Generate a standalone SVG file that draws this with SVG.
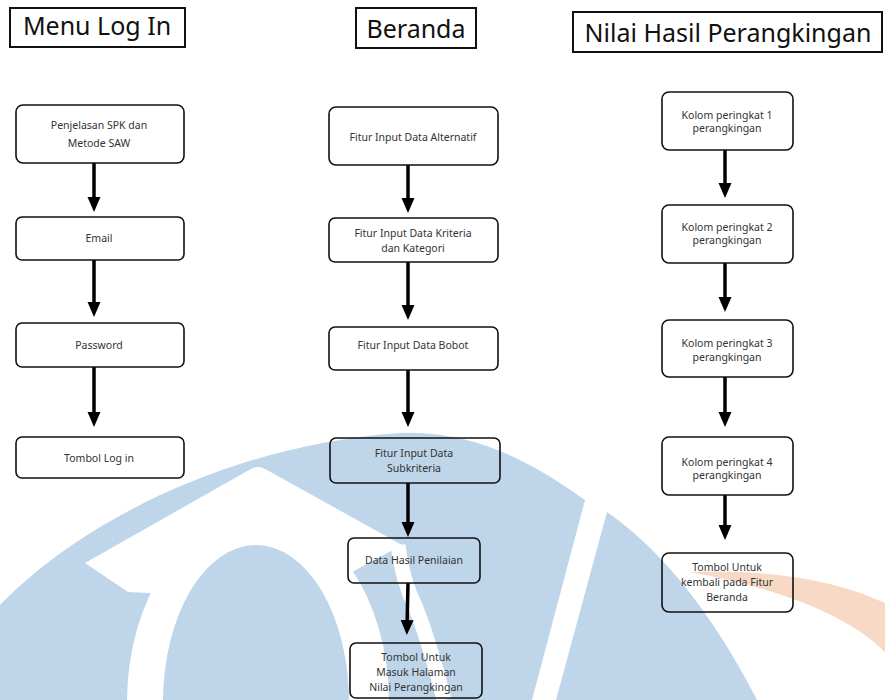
<svg xmlns="http://www.w3.org/2000/svg" width="885" height="700" viewBox="0 0 885 700">
<style>
.title{fill:none;stroke:#111;stroke-width:2}
.tt{font-family:"Noto Sans","DejaVu Sans",sans-serif;font-size:25px;fill:#111;text-anchor:middle}
.box{fill:none;stroke:#111;stroke-width:1.6}
.t{font-family:"Noto Sans","DejaVu Sans",sans-serif;font-size:10.5px;fill:#333;text-anchor:middle}
.ar{stroke:#000;stroke-width:3.5;fill:none;marker-end:url(#ah)}
</style>
<defs>
<marker id="ah" viewBox="0 0 16 14" refX="7" refY="7" markerWidth="16" markerHeight="14" markerUnits="userSpaceOnUse" orient="auto">
<path d="M0,0.5 L15,7 L0,13.5 Z" fill="#000"/>
</marker>
</defs>
<rect width="885" height="700" fill="#fff"/>
<g id="watermark">
<path d="M0,605 C80,522 230,445 400,433 C480,430 540,468 585,500 L532,700 L0,700 Z" fill="#bfd5e9"/>
<ellipse cx="258" cy="702" rx="131" ry="190" fill="#fff"/>
<path d="M85,563 L249,470 Q258,464 267,470 L402,545 L300,600 L128,592 Z" fill="#fff"/>
<path d="M398,545 Q402,580 416,608 Q432,650 444,700" stroke="#fff" stroke-width="15" fill="none"/>
<ellipse cx="256" cy="702" rx="93" ry="157" fill="#bfd5e9"/>
<path d="M607,512 Q690,570 757,700 L556,700 Z" fill="#bfd5e9"/>
<path d="M690,572 Q810,568 885,603 L885,652 Q830,598 690,572 Z" fill="#f8d9c6"/>
</g>
<g id="titles">
<g id="title-login"><rect class="title" x="10" y="8" width="175" height="39"/><text class="tt" x="97" y="35">Menu Log In</text></g>
<g id="title-beranda"><rect class="title" x="356" y="8" width="120" height="40"/><text class="tt" x="416" y="38">Beranda</text></g>
<g id="title-nilai"><rect class="title" x="573" y="12" width="309" height="40"/><text class="tt" x="728" y="42">Nilai Hasil Perangkingan</text></g>
</g>
<g id="connectors">
<line class="ar" x1="94" y1="163" x2="94" y2="204"/>
<line class="ar" x1="94" y1="260" x2="94" y2="309"/>
<line class="ar" x1="94" y1="367" x2="94" y2="419"/>
<line class="ar" x1="408" y1="165" x2="408" y2="205"/>
<line class="ar" x1="408" y1="262" x2="408" y2="312"/>
<line class="ar" x1="408" y1="370" x2="408" y2="419"/>
<line class="ar" x1="408" y1="483" x2="408" y2="529"/>
<line class="ar" x1="408" y1="583" x2="407" y2="627"/>
<line class="ar" x1="725" y1="150" x2="725" y2="190"/>
<line class="ar" x1="725" y1="263" x2="725" y2="304"/>
<line class="ar" x1="725" y1="377" x2="725" y2="419"/>
<line class="ar" x1="725" y1="495" x2="725" y2="532"/>
</g>
<g id="n-penjelasan"><rect class="box" x="16" y="105" width="168" height="58" rx="7"/><text class="t" x="99" y="129">Penjelasan SPK dan</text><text class="t" x="99" y="147">Metode SAW</text></g>
<g id="n-email"><rect class="box" x="16" y="217" width="168" height="43" rx="6"/><text class="t" x="99" y="242">Email</text></g>
<g id="n-password"><rect class="box" x="16" y="323" width="168" height="44" rx="6"/><text class="t" x="99" y="349">Password</text></g>
<g id="n-tombol-login"><rect class="box" x="16" y="437" width="168" height="41" rx="6"/><text class="t" x="99" y="462">Tombol Log in</text></g>
<g id="n-alternatif"><rect class="box" x="329" y="107" width="169" height="58" rx="7"/><text class="t" x="413" y="141">Fitur Input Data Alternatif</text></g>
<g id="n-kriteria"><rect class="box" x="329" y="218" width="169" height="44" rx="6"/><text class="t" x="413" y="237">Fitur Input Data Kriteria</text><text class="t" x="413" y="252">dan Kategori</text></g>
<g id="n-bobot"><rect class="box" x="329" y="327" width="169" height="43" rx="6"/><text class="t" x="413" y="349">Fitur Input Data Bobot</text></g>
<g id="n-subkriteria"><rect class="box" x="330" y="438" width="170" height="45" rx="6"/><text class="t" x="414" y="457">Fitur Input Data</text><text class="t" x="414" y="472">Subkriteria</text></g>
<g id="n-hasil"><rect class="box" x="348" y="538" width="132" height="45" rx="6"/><text class="t" x="414" y="564">Data Hasil Penilaian</text></g>
<g id="n-tombol-masuk"><rect class="box" x="350" y="643" width="132" height="55" rx="6"/><text class="t" x="416" y="661">Tombol Untuk</text><text class="t" x="416" y="676">Masuk Halaman</text><text class="t" x="416" y="691">Nilai Perangkingan</text></g>
<g id="n-kolom1"><rect class="box" x="662" y="92" width="131" height="58" rx="7"/><text class="t" x="727" y="119">Kolom peringkat 1</text><text class="t" x="727" y="132">perangkingan</text></g>
<g id="n-kolom2"><rect class="box" x="662" y="205" width="131" height="58" rx="7"/><text class="t" x="727" y="231">Kolom peringkat 2</text><text class="t" x="727" y="244">perangkingan</text></g>
<g id="n-kolom3"><rect class="box" x="662" y="320" width="131" height="57" rx="7"/><text class="t" x="727" y="347">Kolom peringkat 3</text><text class="t" x="727" y="361">perangkingan</text></g>
<g id="n-kolom4"><rect class="box" x="662" y="437" width="131" height="58" rx="7"/><text class="t" x="727" y="466">Kolom peringkat 4</text><text class="t" x="727" y="479">perangkingan</text></g>
<g id="n-tombol-kembali"><rect class="box" x="662" y="553" width="131" height="59" rx="7"/><text class="t" x="727" y="571">Tombol Untuk</text><text class="t" x="727" y="586">kembali pada Fitur</text><text class="t" x="727" y="601">Beranda</text></g>
</svg>
